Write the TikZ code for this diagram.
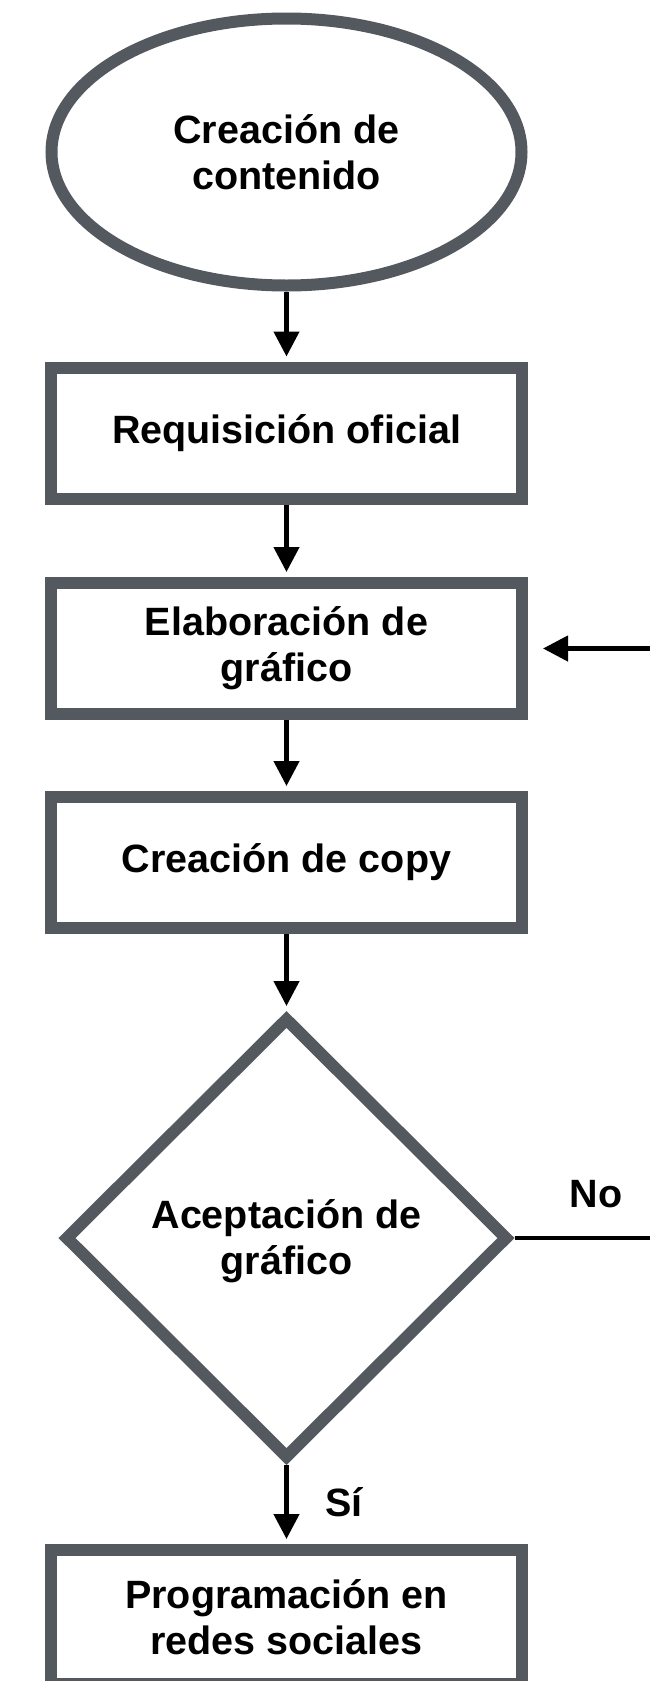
\documentclass[tikz,border=0pt]{standalone}
\usepackage{fontspec}
\setmainfont{Liberation Sans}
\usetikzlibrary{shapes.geometric,arrows.meta}
\definecolor{slate}{RGB}{84,89,95}

\begin{document}
\begin{tikzpicture}[x=1pt,y=-1pt,font=\fontsize{39.5}{46}\selectfont\bfseries]
  \tikzset{EL/.style={ellipse, draw=slate, line width=12pt, minimum width=470pt, minimum height=267pt, align=center}}
  \tikzset{BX/.style={rectangle, draw=slate, line width=12pt, minimum width=471pt, minimum height=131pt, align=center}}
  \tikzset{DM/.style={diamond, draw=slate, line width=12pt, minimum width=444pt, minimum height=442pt, inner sep=0pt}}
  \tikzset{TX/.style={align=center}}
  \tikzset{AR/.style={line width=4.5pt, -{Triangle[length=25pt,width=25pt]}, shorten >=5pt}}
  \useasboundingbox (0,0) rectangle (650,1681);

  \node [EL] (n1)   at (286.5,152)  {Creación de\\contenido};
  \node [BX] (n2)   at (286.5,433)  {Requisición oficial};
  \node [BX] (n3)   at (286.5,648.5) {Elaboración de\\gráfico};
  \node [BX] (n4)   at (286.5,862.5) {Creación de copy};
  \node [DM] (n5)   at (286.5,1238) {};
  \node [TX] (n5tx) at (286.5,1241) {Aceptación de\\gráfico};
  \node [BX, minimum height=134pt] (n6) at (286.5,1617) {Programación en\\redes sociales};
  \node (no) at (596,1194) {No};
  \node (si) at (344,1502) {Sí};
  \coordinate (back) at (720,1238);

  \foreach \from/\to in {n1/n2,n2/n3,n3/n4,n4/n5,n5/n6}
    \draw[AR] (\from.south) -- (\to.north);
  \draw[AR, shorten >=15pt] (n5.east) -- (back) |- (n3.east);
\end{tikzpicture}
\end{document}
